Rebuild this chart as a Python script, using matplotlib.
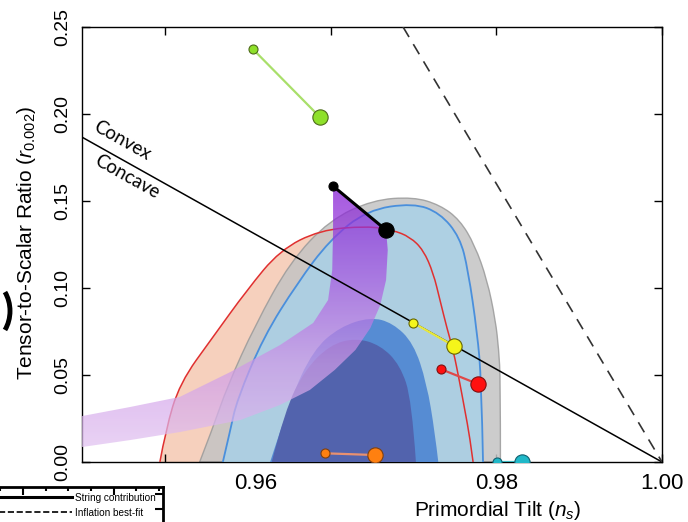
import numpy as np
import matplotlib
matplotlib.use("Agg")
import matplotlib.pyplot as plt
from matplotlib.path import Path
from matplotlib.patches import PathPatch, Polygon, Arc
from matplotlib.lines import Line2D
from matplotlib.colors import LinearSegmentedColormap

plt.rcParams['font.family'] = ['Liberation Sans', 'DejaVu Sans']
plt.rcParams['mathtext.fontset'] = 'custom'
plt.rcParams['mathtext.rm'] = 'Liberation Sans'
plt.rcParams['mathtext.it'] = 'Liberation Sans:italic'

# ---- data (ns, r) ----
# outer grey region
grey95_ns = [0.9442, 0.9457, 0.9476, 0.9509, 0.9551, 0.9599, 0.9651, 0.9700, 0.9732, 0.9756, 0.9774, 0.9789, 0.9799, 0.9803, 0.9805, 0.9805]
grey95_r = [0.0, 0.0184, 0.0443, 0.0787, 0.1149, 0.1391, 0.1506, 0.1523, 0.1477, 0.1391, 0.1247, 0.1046, 0.0816, 0.0644, 0.0471, 0.0]
# red outline region
red95_ns = [0.9394, 0.9401, 0.9418, 0.9458, 0.9499, 0.9539, 0.9587, 0.9644, 0.9675, 0.9696, 0.9712, 0.9724, 0.9732, 0.9741, 0.9748, 0.9756, 0.9762, 0.9768, 0.9772]
red95_r = [0.0, 0.0184, 0.0454, 0.0718, 0.0988, 0.1218, 0.1333, 0.1356, 0.1333, 0.1293, 0.1218, 0.1086, 0.0931, 0.0759, 0.0644, 0.0454, 0.0299, 0.0144, 0.0]
# light blue region
blue95_ns = [0.9470, 0.9479, 0.9487, 0.9519, 0.9560, 0.9599, 0.9644, 0.9700, 0.9732, 0.9756, 0.9766, 0.9777, 0.9782, 0.9784]
blue95_r = [0.0, 0.0184, 0.0356, 0.0718, 0.1029, 0.1276, 0.1448, 0.1488, 0.1431, 0.1293, 0.1103, 0.0741, 0.0471, 0.0]
# medium blue region
blue68_ns = [0.9527, 0.9551, 0.9579, 0.9611, 0.9648, 0.9675, 0.9700, 0.9716, 0.9726, 0.9730]
blue68_r = [0.0, 0.0356, 0.0644, 0.0776, 0.0833, 0.0799, 0.0684, 0.0454, 0.0167, 0.0]
# dark core region
core_ns = [0.9529, 0.9545, 0.9569, 0.9599, 0.9630, 0.9660, 0.9684, 0.9698, 0.9703]
core_r = [0.0, 0.0299, 0.0529, 0.0672, 0.0713, 0.0672, 0.0557, 0.0356, 0.0]

# natural inflation band (right edge down, then left edge up)
band_ns = [0.9667, 0.9669, 0.9667, 0.9660, 0.9648, 0.9630, 0.9605, 0.9575, 0.9539, 0.9491, 0.9418, 0.9358, 0.9300,
           0.9300, 0.9358, 0.9418, 0.9479, 0.9539, 0.9579, 0.9597, 0.9602, 0.9603, 0.9603]
band_r = [0.1333, 0.1218, 0.1046, 0.0902, 0.0770, 0.0644, 0.0529, 0.0414, 0.0328, 0.0241, 0.0172, 0.0126, 0.0086,
          0.0264, 0.0316, 0.0374, 0.0517, 0.0672, 0.0799, 0.0931, 0.1103, 0.1333, 0.1586]

# model predictions (N=50 small, N=60 large)
models = {
    'green':  ([0.9506, 0.9587], [0.2374, 0.1983], '#8ee02a', '#a9df6a', '#4d6a1a'),
    'black':  ([0.9603, 0.9667], [0.1586, 0.1333], 'black', 'black', 'black'),
    'yellow': ([0.9700, 0.9749], [0.0799, 0.0667], '#f5f51a', '#e8e83a', '#666600'),
    'red':    ([0.9733, 0.9778], [0.0534, 0.0448], '#ff1010', '#e04848', '#801010'),
    'orange': ([0.9593, 0.9654], [0.0050, 0.0040], '#ff8010', '#e89070', '#804010'),
    'cyan':   ([0.9801, 0.9831], [0.0, 0.0], '#20b8c8', '#40b8c0', '#106070'),
}

linear_ns = [0.93, 1.00]
linear_r = [0.1867, 0.0]
dashed_ns = [0.96875, 1.00]
dashed_r = [0.25, 0.0]

xtick_pos = [0.94, 0.96, 0.98, 1.00]
xlabel_pos = [0.951, 0.98, 1.00]
xlabel_txt = ['0.96', '0.98', '1.00']
ytick_pos = [0.0, 0.05, 0.10, 0.15, 0.20, 0.25]
ytick_txt = ['0.00', '0.05', '0.10', '0.15', '0.20', '0.25']


def smooth_path(xs, ys):
    pts = list(zip(xs, ys))
    verts = [pts[0]]
    codes = [Path.MOVETO]
    for i in range(1, len(pts) - 1):
        if i == len(pts) - 2:
            end = pts[-1]
        else:
            end = ((pts[i][0] + pts[i + 1][0]) / 2, (pts[i][1] + pts[i + 1][1]) / 2)
        verts += [pts[i], end]
        codes += [Path.CURVE3, Path.CURVE3]
    return Path(verts, codes)


def closed(path):
    v = np.vstack([path.vertices, path.vertices[:1]])
    c = list(path.codes) + [Path.LINETO]
    return Path(v, c)


fig = plt.figure(figsize=(6.88, 5.22), dpi=100)
ax = fig.add_axes([82 / 688, 60 / 522, 580 / 688, 435 / 522])

# filled regions
p = smooth_path(red95_ns, red95_r)
ax.add_patch(PathPatch(closed(p), facecolor='#f5cbb6', edgecolor='none', alpha=0.9, zorder=1))
p = smooth_path(grey95_ns, grey95_r)
ax.add_patch(PathPatch(closed(p), facecolor='#c4c4c4', edgecolor='#9a9a9a', lw=1.0, alpha=0.85, zorder=2))
p = smooth_path(blue95_ns, blue95_r)
ax.add_patch(PathPatch(closed(p), facecolor='#a4d2ec', edgecolor='none', alpha=0.75, zorder=3))
ax.add_patch(PathPatch(p, facecolor='none', edgecolor='#4a8fdc', lw=1.3, zorder=3.1))
p = smooth_path(blue68_ns, blue68_r)
ax.add_patch(PathPatch(closed(p), facecolor='#4d85d2', edgecolor='none', alpha=0.9, zorder=4))
p = smooth_path(core_ns, core_r)
ax.add_patch(PathPatch(closed(p), facecolor='#5261ab', edgecolor='none', alpha=0.95, zorder=5))
p = smooth_path(red95_ns, red95_r)
ax.add_patch(PathPatch(p, facecolor='none', edgecolor='#e03030', lw=1.1, zorder=6))

# natural inflation band with gradient
band = Polygon(np.column_stack([band_ns, band_r]), closed=True, facecolor='none', edgecolor='none')
ax.add_patch(band)
cmap = LinearSegmentedColormap.from_list('nat', ['#e4c8f2', '#cf9ae8', '#a24ee0', '#7a08d0'])
grad = np.linspace(0, 1, 256).reshape(-1, 1)
im = ax.imshow(grad, extent=[0.93, 1.0, 0.0, 0.17], origin='lower', aspect='auto', cmap=cmap,
               alpha=0.72, zorder=7)
im.set_clip_path(band)

# lines
ax.plot(linear_ns, linear_r, color='black', lw=1.1, zorder=8)
ax.plot(dashed_ns, dashed_r, color='#333333', lw=1.2, ls=(0, (7, 5)), zorder=8)

for key, (xs, ys, fc, lc, ec) in models.items():
    lw = 2.2 if key == 'black' else 1.6
    ax.plot(xs, ys, color=lc, lw=lw, zorder=9)
    ax.plot(xs[0], ys[0], 'o', ms=6.5, mfc=fc, mec=ec, mew=0.8, zorder=10)
    ax.plot(xs[1], ys[1], 'o', ms=11, mfc=fc, mec=ec, mew=0.8, zorder=10)

ax.text(0.93483, 0.1845, 'Convex', rotation=-29.3, ha='center', va='center', fontsize=13.5,
        family='Lato', rotation_mode='anchor')
ax.text(0.93543, 0.1638, 'Concave', rotation=-29.3, ha='center', va='center', fontsize=13.5,
        family='Lato', rotation_mode='anchor')

ax.set_xlim(0.93, 1.0)
ax.set_ylim(0.0, 0.25)
ax.xaxis.remove_overlapping_locs = False
ax.set_xticks(xtick_pos)
ax.set_xticklabels([])
ax.set_xticks(xlabel_pos, minor=True)
ax.set_xticklabels(xlabel_txt, minor=True, fontsize=16)
ax.tick_params(axis='x', which='minor', length=0, pad=8)
ax.set_yticks(ytick_pos)
ax.set_yticklabels(ytick_txt, fontsize=14, rotation=90, va='center')
ax.tick_params(which='major', direction='in', top=True, right=True, length=6, width=1)
ax.tick_params(axis='y', pad=8)
for s in ax.spines.values():
    s.set_linewidth(1.0)

ax.set_xlabel('Primordial Tilt ($n_s$)', fontsize=15)
ax.xaxis.set_label_coords(0.717, -0.084)
ax.set_ylabel('Tensor-to-Scalar Ratio ($r_{0.002}$)', fontsize=15)
ax.yaxis.set_label_coords(-0.075, 0.503)

# fragment of a neighbouring panel at the lower left
fig.add_artist(Arc((-16 / 688, 1 - 311 / 522), 52 / 688, 64 / 522, theta1=-50, theta2=50,
                   transform=fig.transFigure, lw=3.5, color='black'))
ax2 = fig.add_axes([-0.05, -0.10, 0.287, 0.167])
ax2.set_xlim(0, 1)
ax2.set_ylim(0, 1)
ax2.set_xticks([0.29, 0.75])
ax2.set_xticks(np.arange(0.06, 1.0, 0.115), minor=True)
ax2.set_yticks([0.55, 0.75, 0.92])
ax2.tick_params(which='both', direction='in', top=True, right=True, labelbottom=False, labelleft=False,
                length=6, width=1.5)
ax2.tick_params(which='minor', length=3)
for s in ax2.spines.values():
    s.set_linewidth(2)
handles = [Line2D([], [], color='black', lw=2.2), Line2D([], [], color='black', lw=1.2, ls='--')]
ax2.legend(handles, ['String contribution', 'Inflation best-fit'], loc='upper left',
           bbox_to_anchor=(0.0, 0.98), frameon=False, fontsize=7.2, handlelength=10.2,
           handletextpad=0.3, borderaxespad=0.0, labelspacing=0.5)

fig.savefig('out.png', dpi=100)
